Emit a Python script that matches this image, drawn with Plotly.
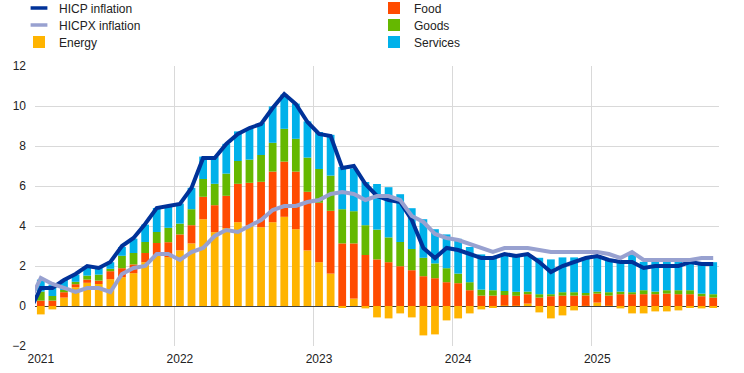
import plotly.graph_objects as go

# ---------------- data ----------------
months = [f"{y}-{m:02d}" for y in range(2021, 2026) for m in range(1, 13)][:59]  # Jan 2021 - Nov 2025
line_months = ["2020-12"] + months

energy = [-0.42, -0.17, 0.42, 0.94, 1.16, 1.10, 1.34, 1.44, 1.64, 2.19, 2.55, 2.44,
          2.78, 3.13, 4.34, 3.69, 3.89, 4.19, 4.02, 3.94, 4.19, 4.46, 3.84, 2.78,
          2.19, 1.62, -0.08, 0.37, -0.12, -0.57, -0.62, -0.37, -0.57, -1.47, -1.42, -0.72,
          -0.62, -0.37, -0.17, -0.07, 0.03, 0.02, 0.12, -0.32, -0.62, -0.47, -0.22, 0.01,
          0.17, 0.02, -0.12, -0.37, -0.37, -0.27, -0.27, -0.22, -0.07, -0.12, -0.07]
food = [0.27, 0.27, 0.27, 0.15, 0.16, 0.17, 0.40, 0.45, 0.44, 0.46, 0.60, 0.75,
        0.80, 0.91, 1.12, 1.35, 1.62, 1.92, 2.14, 2.27, 2.53, 2.76, 2.88, 2.93,
        2.97, 3.14, 3.13, 2.76, 2.55, 2.33, 2.19, 1.99, 1.79, 1.49, 1.39, 1.19,
        1.14, 0.79, 0.52, 0.52, 0.52, 0.49, 0.47, 0.42, 0.49, 0.52, 0.52, 0.52,
        0.45, 0.50, 0.59, 0.59, 0.59, 0.59, 0.62, 0.59, 0.59, 0.49, 0.42]
goods = [0.45, 0.23, 0.11, 0.12, 0.20, 0.30, 0.12, 0.62, 0.57, 0.55, 0.55, 0.72,
         0.54, 0.80, 0.89, 1.07, 1.11, 1.14, 1.16, 1.34, 1.44, 1.64, 1.64, 1.71,
         1.69, 1.76, 1.71, 1.61, 1.49, 1.49, 1.24, 1.21, 1.06, 0.92, 0.74, 0.70,
         0.48, 0.40, 0.30, 0.27, 0.20, 0.20, 0.13, 0.17, 0.10, 0.17, 0.17, 0.12,
         0.10, 0.17, 0.13, 0.10, 0.20, 0.13, 0.17, 0.20, 0.20, 0.13, 0.17]
services = [0.60, 0.57, 0.51, 0.36, 0.42, 0.34, 0.33, 0.44, 0.72, 0.87, 1.20, 1.05,
            1.00, 1.07, 1.12, 1.36, 1.49, 1.48, 1.57, 1.60, 1.82, 1.71, 1.76, 1.81,
            1.85, 2.04, 2.11, 2.14, 2.16, 2.28, 2.51, 2.39, 2.04, 1.93, 1.71, 1.69,
            1.74, 1.76, 1.76, 1.66, 1.87, 1.85, 1.84, 1.82, 1.74, 1.74, 1.74, 1.80,
            1.71, 1.64, 1.52, 1.86, 1.42, 1.49, 1.42, 1.45, 1.45, 1.52, 1.60]
hicp = [-0.3,
        0.9, 0.9, 1.3, 1.6, 2.0, 1.9, 2.2, 3.0, 3.4, 4.1, 4.9, 5.0,
        5.1, 5.9, 7.4, 7.4, 8.1, 8.6, 8.9, 9.1, 9.9, 10.6, 10.1, 9.2,
        8.6, 8.5, 6.9, 7.0, 6.1, 5.5, 5.3, 5.2, 4.3, 2.9, 2.4, 2.9,
        2.8, 2.6, 2.4, 2.4, 2.6, 2.5, 2.6, 2.2, 1.7, 2.0, 2.2, 2.4,
        2.5, 2.3, 2.2, 2.2, 1.9, 2.0, 2.0, 2.0, 2.2, 2.1, 2.1]
hicpx = [0.2,
         1.4, 1.1, 0.9, 0.7, 0.9, 0.9, 0.7, 1.6, 1.9, 2.0, 2.6, 2.6,
         2.3, 2.7, 2.9, 3.5, 3.8, 3.7, 4.0, 4.3, 4.8, 5.0, 5.0, 5.2,
         5.3, 5.6, 5.7, 5.6, 5.3, 5.5, 5.5, 5.3, 4.5, 4.2, 3.6, 3.4,
         3.3, 3.1, 2.9, 2.7, 2.9, 2.9, 2.9, 2.8, 2.7, 2.7, 2.7, 2.7,
         2.7, 2.6, 2.4, 2.7, 2.3, 2.3, 2.3, 2.3, 2.3, 2.4, 2.4]
year_labels = ["2021", "2022", "2023", "2024", "2025"]

# ---------------- styling ----------------
C_HICP = "#003299"
C_HICPX = "#98a1d0"
C_ENERGY = "#ffb400"
C_FOOD = "#ff4b00"
C_GOODS = "#65b800"
C_SERV = "#00b1ea"
FONT = "Arial, Liberation Sans, sans-serif"

bar_x = list(range(len(months)))
line_x = [i - 1 for i in range(len(line_months))]
tick_pos = [months.index(f"{y}-01") for y in year_labels]
boundaries = [p - 0.5 for p in tick_pos]

fig = go.Figure()
bar_specs = [("Energy", energy, C_ENERGY, "legend3"),
             ("Food", food, C_FOOD, "legend4"),
             ("Goods", goods, C_GOODS, "legend5"),
             ("Services", services, C_SERV, "legend6")]
for name, vals, col, lg in bar_specs:
    fig.add_trace(go.Bar(x=bar_x, y=vals, name=name, marker=dict(color=col, line=dict(width=0)),
                         legend=lg))

fig.add_trace(go.Scatter(x=line_x, y=hicp, mode="lines", line=dict(color=C_HICP, width=4),
                         showlegend=False))
fig.add_trace(go.Scatter(x=line_x, y=hicpx, mode="lines", line=dict(color=C_HICPX, width=4),
                         showlegend=False))
# legend entries for the lines (short thick dash like the original)
for name, col, lg in [("HICP inflation", C_HICP, "legend"), ("HICPX inflation", C_HICPX, "legend2")]:
    fig.add_trace(go.Scatter(x=[None], y=[None], mode="markers", name=name, legend=lg,
                             marker=dict(symbol="line-ew", size=12, color=col,
                                         line=dict(width=3.5, color=col))))

W, H = 744, 373
col1_left = 19
col2_left = 374
rows = [8, 25, 42]
legend_pos = {
    "legend": (col1_left, rows[0]),
    "legend2": (col1_left, rows[1]),
    "legend3": (col1_left, rows[2]),
    "legend4": (col2_left, rows[0]),
    "legend5": (col2_left, rows[1]),
    "legend6": (col2_left, rows[2]),
}
legend_layout = {}
for key, (px, py) in legend_pos.items():
    legend_layout[key] = dict(x=px / W, y=1 - py / H, xref="container", yref="container",
                              xanchor="left", yanchor="middle", bgcolor="rgba(0,0,0,0)",
                              borderwidth=0, font=dict(family=FONT, size=12, color="#222"))

fig.update_layout(
    width=W, height=H,
    margin=dict(l=35, r=25, t=66, b=27, autoexpand=False),
    paper_bgcolor="white", plot_bgcolor="white",
    barmode="relative", bargap=0.33,
    font=dict(family=FONT, size=12, color="#222"),
    hovermode=False,
    **legend_layout,
)
fig.update_xaxes(
    range=[-0.5, len(months) - 0.5],
    tickmode="array", tickvals=tick_pos, ticktext=year_labels,
    showgrid=False, zeroline=False, showline=False, ticks="", ticklabelstandoff=4,
    minor=dict(tickmode="array", tickvals=boundaries, showgrid=True,
               gridcolor="#d9d9d9", gridwidth=1, ticks=""),
    tickfont=dict(family=FONT, size=12, color="#222"),
)
fig.update_yaxes(
    range=[-2, 12], tickmode="linear", tick0=-2, dtick=2,
    showgrid=True, gridcolor="#d9d9d9", gridwidth=1,
    zeroline=True, zerolinecolor="#404040", zerolinewidth=1,
    showline=False, ticks="", ticklabelstandoff=8,
    tickfont=dict(family=FONT, size=12, color="#222"),
)

fig.write_html("out.html", config={"displayModeBar": False},
               post_script="document.body.style.margin='0';")
